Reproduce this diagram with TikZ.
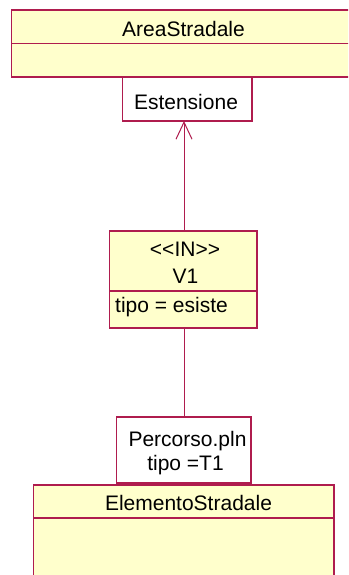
\documentclass[tikz,border=0pt]{standalone}
\usepackage{fontspec}
\newfontfamily\lsans{Liberation Sans}
\usetikzlibrary{arrows.meta}
\definecolor{umlborder}{RGB}{175,28,78}
\definecolor{umlfill}{RGB}{255,255,204}
\tikzset{
  every node/.style={font=\lsans\fontsize{21}{24}\selectfont},
  box/.style={draw=umlborder, line width=1.3pt, anchor=north west, inner sep=0pt, outer sep=0pt},
  classbox/.style={box, fill=umlfill},
  notebox/.style={box, fill=white},
  txt/.style={anchor=base, inner sep=0pt, text=black},
  ltxt/.style={anchor=base west, inner sep=0pt, text=black},
  divider/.style={draw=umlborder, line width=1.3pt},
  conn/.style={draw=umlborder, line width=1pt},
  opentip/.style={-{Straight Barb[length=17pt,width=16pt,line width=1pt]}}
}
\begin{document}
\begin{tikzpicture}[x=1pt,y=1pt]
\clip (0,0) rectangle (348,-575);
\fill[white] (0,0) rectangle (348,-575);

% AreaStradale
\node[classbox, minimum width=350pt, minimum height=67pt] (area) at (11.5,-10) {};
\draw[divider] (11.5,-43.5) -- (362,-43.5);
\node[txt] (areaT) at (183.5,-36.5) {AreaStradale};

% Estensione
\node[notebox, minimum width=129.5pt, minimum height=44pt] (est) at (122.5,-77) {};
\node[txt] (estT) at (186,-110) {Estensione};

% V1
\node[classbox, minimum width=147.5pt, minimum height=97pt] (v1) at (109.5,-231) {};
\draw[divider] (109.5,-291) -- (257,-291);
\node[txt] (v1a) at (185,-256) {<<IN>>};
\node[txt] (v1b) at (185.5,-283) {V1};
\node[ltxt] (v1c) at (115,-312) {tipo = esiste};

% Percorso
\node[notebox, minimum width=134.5pt, minimum height=66pt] (perc) at (116.5,-417) {};
\node[txt] (percA) at (187.5,-446) {Percorso.pln};
\node[txt] (percB) at (185.5,-470) {tipo =T1};

% ElementoStradale
\node[classbox, minimum width=300.5pt, minimum height=120pt] (elem) at (33.5,-485) {};
\draw[divider] (33.5,-518) -- (334,-518);
\node[txt] (elemT) at (188.5,-510) {ElementoStradale};

% connectors
\coordinate (lx) at (184,0);
\draw[conn, opentip] (v1.north -| lx) -- (est.south -| lx);
\draw[conn] (v1.south -| lx) -- (perc.north -| lx);
\end{tikzpicture}
\end{document}
